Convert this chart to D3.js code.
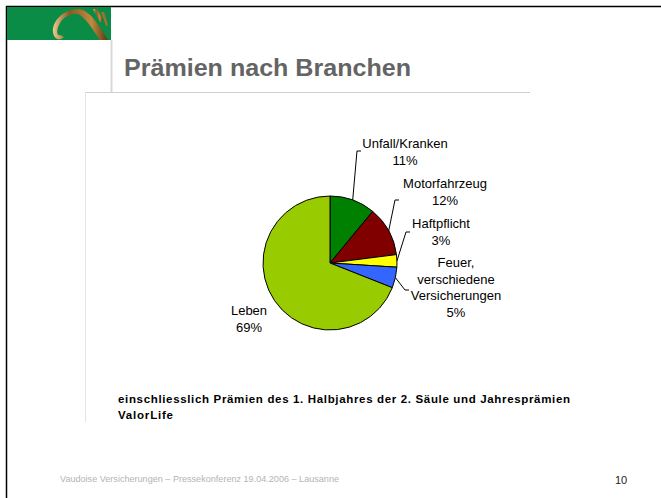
<!DOCTYPE html>
<html>
<head>
<meta charset="utf-8">
<script src="https://cdn.jsdelivr.net/npm/d3@7"></script>
<style>
  body { margin: 0; background: #fff; }
  svg { display: block; font-family: "Liberation Sans", Arial, sans-serif; }
</style>
</head>
<body>
<svg id="chart" width="661" height="498"></svg>
<script>
// data
const categories = ["Unfall/Kranken", "Motorfahrzeug", "Haftpflicht", "Feuer, verschiedene Versicherungen", "Leben"];
const shares = [11, 12, 3, 5, 69];
const sliceColors = ["#008000", "#800000", "#ffff00", "#3366ff", "#99cc00"];
// label lines as they wrap on the slide
const labelLines = [
  ["Unfall/Kranken"],
  ["Motorfahrzeug"],
  ["Haftpflicht"],
  ["Feuer,", "verschiedene", "Versicherungen"],
  ["Leben"]
];
// where each label block is centred (x) and its first baseline (y)
const labelPos = [[405, 148], [445, 188], [441, 228], [456, 267], [249, 315]];
// elbow point of each leader line (null = no leader)
const elbows = [[357, 151], [395, 200], [406, 232], [405, 290], null];

const svg = d3.select("#chart");
const cx = 330, cy = 263, r = 67;

// slide frame
svg.append("line").attr("x1", 6).attr("y1", 6.5).attr("x2", 661).attr("y2", 6.5).attr("stroke", "#000").attr("stroke-width", 1.5);
svg.append("line").attr("x1", 6.5).attr("y1", 6).attr("x2", 6.5).attr("y2", 498).attr("stroke", "#000").attr("stroke-width", 1.5);

// logo band
svg.append("rect").attr("x", 7).attr("y", 7).attr("width", 104).attr("height", 33).attr("fill", "#0b8c46");
const grad = svg.append("defs").append("linearGradient").attr("id", "gold").attr("x1", "0").attr("x2", "1");
grad.append("stop").attr("offset", "0").attr("stop-color", "#f0c890");
grad.append("stop").attr("offset", "0.3").attr("stop-color", "#8a5a20");
grad.append("stop").attr("offset", "0.7").attr("stop-color", "#c08a40");
grad.append("stop").attr("offset", "1").attr("stop-color", "#5a3510");
svg.append("path")
  .attr("d", "M78,9 C62,10 52,22 53,32 C54,40 60,41 64,37 L60,35 C57,36 56,31 59,25 C63,16 72,13 78,14 C84,16 92,28 100,40 L108,40 C98,24 90,10 78,9 Z")
  .attr("fill", "url(#gold)");
svg.append("path").attr("d", "M93,9 L100,22 L103,20 L97,9 Z").attr("fill", "url(#gold)");
svg.append("path").attr("d", "M101,12 L106,26 L108,25 L104,12 Z").attr("fill", "#a07030");

// title area lines
svg.append("line").attr("x1", 111.5).attr("y1", 40).attr("x2", 111.5).attr("y2", 92).attr("stroke", "#d8d8d8").attr("stroke-width", 2);
svg.append("line").attr("x1", 85).attr("y1", 92.5).attr("x2", 530).attr("y2", 92.5).attr("stroke", "#cfcfcf");
svg.append("line").attr("x1", 85.5).attr("y1", 92).attr("x2", 85.5).attr("y2", 422).attr("stroke", "#e4e4e4");

svg.append("text").attr("x", 124).attr("y", 76)
  .attr("font-size", 24).attr("font-weight", "bold").attr("fill", "#646464")
  .attr("textLength", 287).attr("lengthAdjust", "spacingAndGlyphs")
  .text("Prämien nach Branchen");

// pie
const pie = d3.pie().sort(null).value(d => d)(shares);
const arc = d3.arc().innerRadius(0).outerRadius(r);
const g = svg.append("g").attr("transform", `translate(${cx},${cy})`);
g.selectAll("path").data(pie).enter().append("path")
  .attr("d", arc)
  .attr("fill", (d, i) => sliceColors[i])
  .attr("stroke", "#000").attr("stroke-width", 1);

// leader lines
pie.forEach((d, i) => {
  if (!elbows[i]) return;
  const a = (d.startAngle + d.endAngle) / 2;
  const px = cx + r * Math.sin(a), py = cy - r * Math.cos(a);
  const [ex, ey] = elbows[i];
  svg.append("polyline")
    .attr("points", `${px},${py} ${ex},${ey} ${ex + 4},${ey}`)
    .attr("fill", "none").attr("stroke", "#000").attr("stroke-width", 1);
});

// labels
pie.forEach((d, i) => {
  const lines = labelLines[i].concat([shares[i] + "%"]);
  const t = svg.append("text").attr("text-anchor", "middle")
    .attr("font-size", 13).attr("fill", "#000");
  lines.forEach((s, j) => {
    t.append("tspan").attr("x", labelPos[i][0]).attr("y", labelPos[i][1] + j * 16.5).text(s);
  });
});

// note
svg.append("text").attr("x", 118).attr("y", 403)
  .attr("font-size", 11.5).attr("font-weight", "bold").attr("fill", "#000")
  .attr("textLength", 452).attr("lengthAdjust", "spacing")
  .text("einschliesslich Prämien des 1. Halbjahres der 2. Säule und Jahresprämien");
svg.append("text").attr("x", 118).attr("y", 419)
  .attr("font-size", 11.5).attr("font-weight", "bold").attr("fill", "#000")
  .attr("textLength", 55).attr("lengthAdjust", "spacing")
  .text("ValorLife");

// footer
svg.append("text").attr("x", 60).attr("y", 482)
  .attr("font-size", 9.5).attr("fill", "#b4b4b4")
  .attr("textLength", 279).attr("lengthAdjust", "spacingAndGlyphs")
  .text("Vaudoise Versicherungen – Pressekonferenz 19.04.2006 – Lausanne");
svg.append("text").attr("x", 615).attr("y", 484)
  .attr("font-size", 11).attr("fill", "#222")
  .text("10");
</script>
</body>
</html>
